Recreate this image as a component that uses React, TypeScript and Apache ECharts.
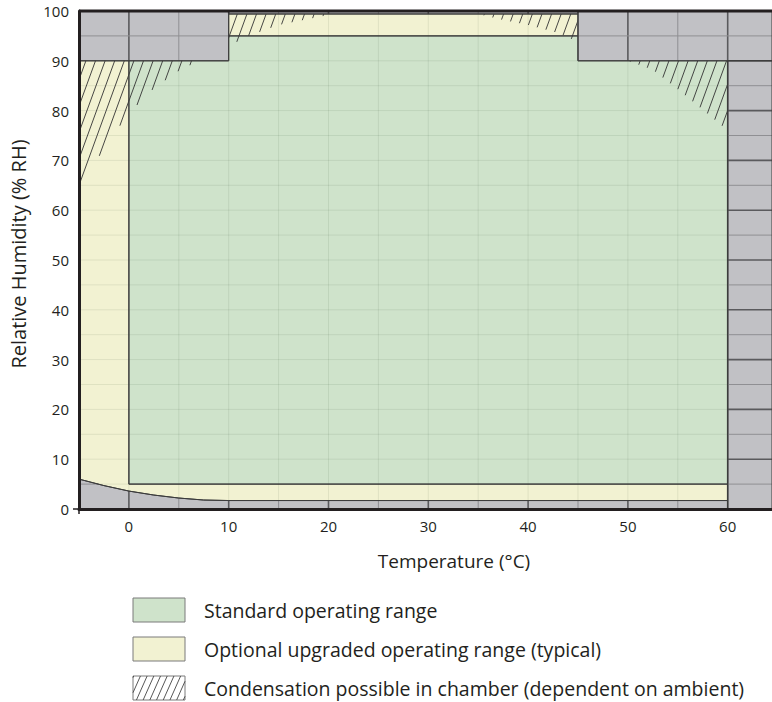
import { useEffect, useRef } from "react";
import * as echarts from "echarts";

// ---------- axis ranges ----------
const X_MIN = -5;
const X_MAX = 64.44;
const Y_MIN = 0;
const Y_MAX = 100;
const GRID_STEP = 5;

// ---------- data (°C, %RH) ----------
// lower humidity limit of the optional upgraded range
const lowLimitT = [-5, -2.5, 0, 2.5, 5, 7.5, 10, 60];
const lowLimitRH = [6.0, 4.7, 3.6, 2.8, 2.2, 1.8, 1.7, 1.7];

// standard operating range outline
const standardT = [0, 60, 60, 45, 45, 10, 10, 0];
const standardRH = [5, 5, 90, 90, 95, 95, 90, 90];

// optional range: top strip and low / cold band
const stripT = [10, 45, 45, 10];
const stripRH = [95, 95, 99.4, 99.4];
const optionalBandT = [-5, 0, 0, 60];
const optionalBandRH = [90, 90, 5, 5];

// condensation boundaries
const condLeftT = [-5, -2.5, 0, 2.5, 5, 7, 10, 12, 15, 17.5, 20, 21, -5];
const condLeftRH = [64, 72.5, 79.5, 84.5, 88, 90, 93, 95, 97.2, 98.2, 99.2, 100, 100];
const condRightT = [34.5, 35, 37.5, 40, 43, 45, 47.5, 50, 52.5, 55, 57.5, 60, 60];
const condRightRH = [100, 99.4, 98.2, 97.2, 95.6, 93.8, 92, 90, 88.2, 84.3, 80.2, 76, 100];

// unavailable (grey) blocks: [tMin, tMax, rhMin, rhMax]
const blockTopLeft = [-5, 10, 90, 100];
const blockTopRight = [45, X_MAX, 90, 100];
const blockRight = [60, X_MAX, 0, 90];
const blockStrip = [10, 45, 99.4, 100];

// tick values
const xTickLabels = [0, 10, 20, 30, 40, 50, 60];
const yTickLabels = [0, 10, 20, 30, 40, 50, 60, 70, 80, 90, 100];

// titles & legend
const xTitle = "Temperature (°C)";
const yTitle = "Relative Humidity (% RH)";
const legendItems = [
  "Standard operating range",
  "Optional upgraded operating range (typical)",
  "Condensation possible in chamber (dependent on ambient)",
];

const GREEN = "#cfe3cb";
const YELLOW = "#f2f2d2";
const GREY = "#c1c1c5";
const BORDER = "#3c3c3c";
const TEXT = "#231f20";
const FONT = "'Open Sans', 'Noto Sans', sans-serif";

type Pt = [number, number];

const zip = (a: number[], b: number[]): Pt[] => a.map((v, i) => [v, b[i]] as Pt);
const rectPts = (r: number[]): Pt[] => [
  [r[0], r[2]],
  [r[1], r[2]],
  [r[1], r[3]],
  [r[0], r[3]],
];

function pointInPoly(x: number, y: number, poly: Pt[]) {
  let inside = false;
  for (let i = 0, j = poly.length - 1; i < poly.length; j = i++) {
    const [xi, yi] = poly[i];
    const [xj, yj] = poly[j];
    if (yi > y !== yj > y && x < ((xj - xi) * (y - yi)) / (yj - yi) + xi) inside = !inside;
  }
  return inside;
}

function clipSeg(a: Pt, b: Pt, poly: Pt[]): [Pt, Pt][] {
  const ts = [0, 1];
  const dx = b[0] - a[0];
  const dy = b[1] - a[1];
  const n = poly.length;
  for (let i = 0; i < n; i++) {
    const c = poly[i];
    const d = poly[(i + 1) % n];
    const ex = d[0] - c[0];
    const ey = d[1] - c[1];
    const den = dx * ey - dy * ex;
    if (Math.abs(den) < 1e-9) continue;
    const t = ((c[0] - a[0]) * ey - (c[1] - a[1]) * ex) / den;
    const u = ((c[0] - a[0]) * dy - (c[1] - a[1]) * dx) / den;
    if (t > 0 && t < 1 && u >= 0 && u <= 1) ts.push(t);
  }
  ts.sort((p, q) => p - q);
  const out: [Pt, Pt][] = [];
  for (let k = 0; k < ts.length - 1; k++) {
    const t0 = ts[k];
    const t1 = ts[k + 1];
    if (t1 - t0 < 1e-6) continue;
    const tm = (t0 + t1) / 2;
    if (pointInPoly(a[0] + tm * dx, a[1] + tm * dy, poly)) {
      out.push([
        [a[0] + t0 * dx, a[1] + t0 * dy],
        [a[0] + t1 * dx, a[1] + t1 * dy],
      ]);
    }
  }
  return out;
}

function hatchLines(poly: Pt[], spacing: number, angleDeg: number, phase = 0) {
  const xs = poly.map((p) => p[0]);
  const ys = poly.map((p) => p[1]);
  const x0 = Math.min(...xs);
  const x1 = Math.max(...xs);
  const y0 = Math.min(...ys) - 1;
  const y1 = Math.max(...ys) + 1;
  const run = (y1 - y0) / Math.tan((angleDeg * Math.PI) / 180);
  const segs: [Pt, Pt][] = [];
  const start = Math.floor((x0 - run - phase) / spacing) * spacing + phase;
  for (let x = start; x <= x1 + 1; x += spacing) {
    segs.push(...clipSeg([x, y1], [x + run, y0], poly));
  }
  return segs;
}

const lineEl = (s: [Pt, Pt], stroke: string, lineWidth: number) => ({
  type: "line",
  shape: { x1: s[0][0], y1: s[0][1], x2: s[1][0], y2: s[1][1] },
  style: { stroke, lineWidth },
  silent: true,
});

export default function App() {
  const ref = useRef<HTMLDivElement>(null);

  useEffect(() => {
    if (!ref.current) return;
    const chart = echarts.init(ref.current, null, { renderer: "svg" });

    const lowPts = zip(lowLimitT, lowLimitRH);
    const lowRev = [...lowPts].reverse();

    const standardPoly = zip(standardT, standardRH);
    const stripPoly = zip(stripT, stripRH);
    const bandPoly: Pt[] = [...zip(optionalBandT, optionalBandRH), ...lowRev];
    const greyBottomPoly: Pt[] = [
      [X_MIN, Y_MIN],
      [lowLimitT[lowLimitT.length - 1], Y_MIN],
      ...lowRev,
    ];
    const greyPolys = [
      rectPts(blockTopLeft),
      rectPts(blockTopRight),
      rectPts(blockRight),
      rectPts(blockStrip),
      greyBottomPoly,
    ];
    const hatchPolys = [zip(condLeftT, condLeftRH), zip(condRightT, condRightRH)];

    const renderItem = (_params: any, api: any) => {
      const C = (p: Pt): Pt => api.coord(p) as Pt;
      const P = (poly: Pt[]) => poly.map(C);
      const children: any[] = [];
      const poly = (pts: Pt[], fill: string, stroke?: string) =>
        children.push({
          type: "polygon",
          shape: { points: P(pts) },
          style: { fill, stroke: stroke || "none", lineWidth: 1 },
          silent: true,
        });

      // fills
      poly(bandPoly, YELLOW);
      poly(stripPoly, YELLOW);
      poly(standardPoly, GREEN);

      // faint grid
      for (let v = X_MIN; v <= X_MAX; v += GRID_STEP) {
        children.push(lineEl([C([v, Y_MIN]), C([v, Y_MAX])], "rgba(0,40,0,0.08)", 1));
      }
      for (let v = Y_MIN; v <= Y_MAX; v += GRID_STEP) {
        children.push(lineEl([C([X_MIN, v]), C([X_MAX, v])], "rgba(0,40,0,0.08)", 1));
      }

      // condensation hatch
      for (const hp of hatchPolys) {
        for (const s of hatchLines(P(hp), 9.6, 70)) children.push(lineEl(s, "#333", 0.9));
      }

      // grey blocks
      for (const gp of greyPolys) poly(gp, GREY);
      // grid within grey blocks
      for (const gp of greyPolys) {
        const pp = P(gp);
        for (let v = X_MIN; v <= X_MAX; v += GRID_STEP) {
          const major = v % 10 === 0;
          for (const s of clipSeg(C([v, Y_MIN]), C([v, Y_MAX]), pp))
            children.push(lineEl(s, major ? "#5a5a5d" : "#8f8f93", major ? 1.6 : 1));
        }
        for (let v = Y_MIN; v <= Y_MAX; v += GRID_STEP) {
          const major = v % 10 === 0;
          for (const s of clipSeg(C([X_MIN, v]), C([X_MAX, v]), pp))
            children.push(lineEl(s, major ? "#5a5a5d" : "#8f8f93", major ? 1.6 : 1));
        }
      }

      // borders
      poly(bandPoly, "none", BORDER);
      poly(stripPoly, "none", BORDER);
      poly(standardPoly, "none", BORDER);
      for (const gp of greyPolys) poly(gp, "none", BORDER);

      // top frame
      children.push(lineEl([C([X_MIN, Y_MAX]), C([X_MAX, Y_MAX])], TEXT, 3));

      // small corner ticks at the origin of the axes
      const o = C([X_MIN, Y_MIN]);
      children.push(lineEl([[o[0] - 6, o[1]], [o[0], o[1]]], TEXT, 1.5));
      children.push(lineEl([[o[0], o[1]], [o[0], o[1] + 5]], TEXT, 1.5));

      return { type: "group", children };
    };

    // legend graphics
    const legendX = 133;
    const legendY = [598, 637, 676];
    const sw = 52;
    const sh = 24;
    const graphic: any[] = [];
    legendItems.forEach((label, i) => {
      const y = legendY[i];
      if (i < 2) {
        graphic.push({
          type: "rect",
          x: legendX,
          y: y,
          shape: { x: 0, y: 0, width: sw, height: sh },
          style: { fill: i === 0 ? GREEN : YELLOW, stroke: "#7a7a7a", lineWidth: 1 },
        });
      } else {
        const box: Pt[] = [
          [legendX, y],
          [legendX + sw, y],
          [legendX + sw, y + sh],
          [legendX, y + sh],
        ];
        graphic.push({
          type: "polygon",
          shape: { points: box },
          style: { fill: "#fff", stroke: "#7a7a7a", lineWidth: 1 },
        });
        for (const s of hatchLines(box, 6.7, 66, 2)) {
          graphic.push({
            type: "line",
            shape: { x1: s[0][0], y1: s[0][1], x2: s[1][0], y2: s[1][1] },
            style: { stroke: "#444", lineWidth: 0.9 },
          });
        }
      }
      graphic.push({
        type: "text",
        x: 204,
        y: y + sh / 2,
        style: {
          text: label,
          fill: TEXT,
          font: `19.5px ${FONT}`,
          verticalAlign: "middle",
          align: "left",
        },
      });
    });
    graphic.push({
      type: "text",
      x: 454,
      y: 561,
      style: { text: xTitle, fill: TEXT, font: `19px ${FONT}`, align: "center", verticalAlign: "middle" },
    });
    graphic.push({
      type: "text",
      x: 18,
      y: 254,
      rotation: Math.PI / 2,
      style: { text: yTitle, fill: TEXT, font: `20px ${FONT}`, align: "center", verticalAlign: "middle" },
    });

    chart.setOption({
      animation: false,
      grid: { left: 79, top: 11, right: 0, bottom: 193, containLabel: false },
      xAxis: {
        type: "value",
        min: X_MIN,
        max: X_MAX,
        interval: 5,
        z: 10,
        axisLine: { show: true, onZero: false, lineStyle: { color: TEXT, width: 3 } },
        axisTick: { show: false },
        splitLine: { show: false },
        axisLabel: {
          color: TEXT,
          fontSize: 15,
          fontFamily: FONT,
          margin: 9,
          showMaxLabel: false,
          formatter: (v: number) => (xTickLabels.includes(v) ? String(v) : ""),
        },
      },
      yAxis: {
        type: "value",
        min: Y_MIN,
        max: Y_MAX,
        interval: 10,
        z: 10,
        axisLine: { show: true, onZero: false, lineStyle: { color: TEXT, width: 3 } },
        axisTick: { show: false },
        splitLine: { show: false },
        axisLabel: {
          color: TEXT,
          fontSize: 15,
          fontFamily: FONT,
          margin: 10,
          formatter: (v: number) => (yTickLabels.includes(v) ? String(v) : ""),
        },
      },
      series: [
        {
          type: "custom",
          coordinateSystem: "cartesian2d",
          renderItem,
          data: [[0, 50]],
          z: 2,
          silent: true,
        },
      ],
      graphic,
    });

    return () => chart.dispose();
  }, []);

  return (
    <div
      ref={ref}
      style={{ position: "fixed", left: 0, top: 0, width: 772, height: 702, background: "#fff" }}
    />
  );
}
